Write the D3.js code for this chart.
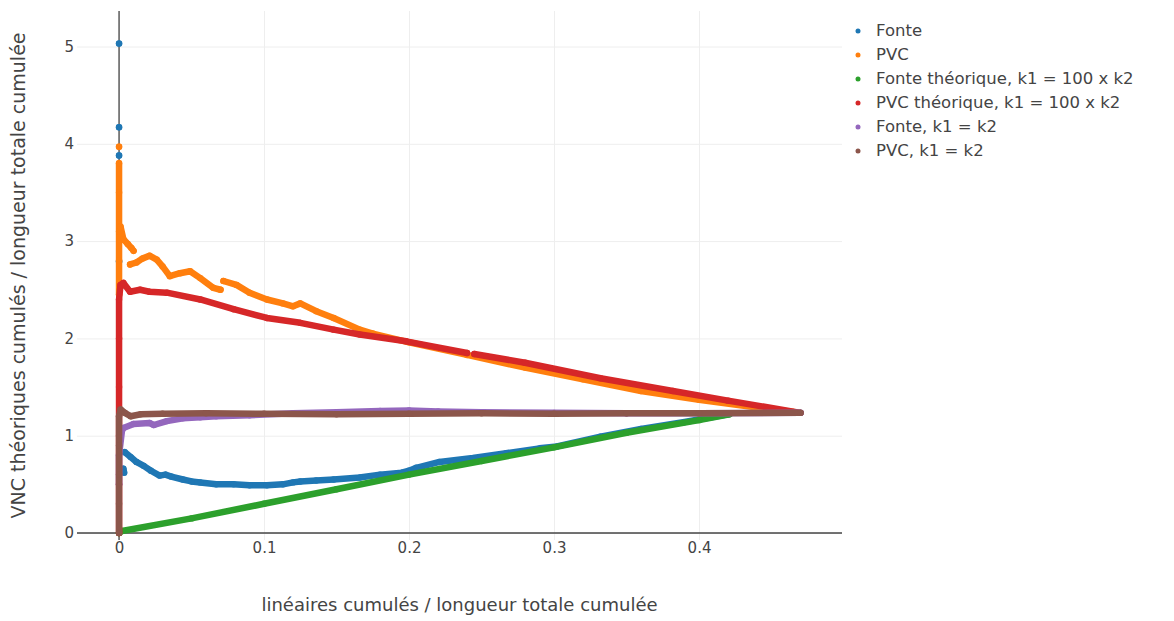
<!DOCTYPE html>
<html><head><meta charset="utf-8">
<script src="https://cdn.jsdelivr.net/npm/d3@7"></script>
<style>body{margin:0;background:#fff;} svg{display:block;}</style>
</head><body>
<script>
// ---------- data (null = gap in the trace) ----------
const seriesNames = ["Fonte","PVC","Fonte théorique, k1 = 100 x k2","PVC théorique, k1 = 100 x k2","Fonte, k1 = k2","PVC, k1 = k2"];
const seriesColors = ["#1f77b4","#ff7f0e","#2ca02c","#d62728","#9467bd","#8c564b"];

const fonteX = [0,null,0,null,0,null,0,null,0.003,0.0035,null,
  0.004,0.008,0.012,0.017,0.022,0.028,0.032,0.036,0.044,0.050,0.056,0.067,0.079,0.090,0.102,0.113,0.120,0.125,0.136,0.148,0.166,0.180,0.195,0.200,0.205,0.221,0.244,0.267,0.290,0.302,0.332,0.360,0.390,0.420];
const fonteY = [5.03,null,4.17,null,3.88,null,2.79,null,0.66,0.62,null,
  0.83,0.78,0.73,0.69,0.64,0.59,0.60,0.58,0.55,0.53,0.52,0.50,0.50,0.49,0.49,0.50,0.52,0.53,0.54,0.55,0.57,0.60,0.62,0.64,0.67,0.73,0.77,0.82,0.87,0.89,0.99,1.07,1.14,1.22];

const pvcX = [0,null,0,0,0,0,0,null,
  0.001,0.003,0.006,0.0085,0.010,null,0.0076,0.012,0.016,0.021,0.026,0.030,0.035,0.042,0.049,0.056,0.065,0.070,null,
  0.072,0.081,0.090,0.102,0.113,0.120,0.125,0.136,0.148,0.166,0.175,0.200,0.240,0.280,0.320,0.360,0.400,0.440,0.465];
const pvcY = [3.97,null,3.80,3.50,3.10,2.80,2.45,null,
  3.15,3.02,2.97,2.93,2.90,null,2.76,2.78,2.82,2.85,2.81,2.74,2.64,2.67,2.69,2.62,2.52,2.50,null,
  2.59,2.55,2.47,2.40,2.36,2.33,2.36,2.28,2.21,2.09,2.05,1.96,1.83,1.70,1.58,1.46,1.37,1.29,1.245];

const fonteTheoX = [0,0.002,0.050,0.100,0.150,0.200,0.250,0.300,0.350,0.400,0.421];
const fonteTheoY = [0.00,0.02,0.15,0.30,0.45,0.60,0.74,0.88,1.03,1.16,1.22];

const pvcTheoX = [0,0,0,0,0,0,0.001,0.003,0.0076,0.0145,0.021,0.033,0.056,0.079,0.102,0.125,0.148,0.166,0.198,0.240,null,0.245,0.280,0.332,0.382,0.420,0.470];
const pvcTheoY = [0.00,0.50,1.00,1.50,2.00,2.40,2.55,2.57,2.48,2.50,2.48,2.47,2.40,2.30,2.21,2.16,2.09,2.04,1.97,1.85,null,1.84,1.75,1.59,1.46,1.36,1.235];

const fonteEqX = [0,0,0.002,0.003,0.010,0.021,0.024,0.033,0.044,0.056,0.067,0.090,0.120,0.150,0.180,0.200,0.220,0.250,0.300,0.350,0.400,0.470];
const fonteEqY = [0.50,0.80,1.05,1.08,1.12,1.13,1.11,1.15,1.18,1.19,1.20,1.21,1.23,1.24,1.255,1.26,1.25,1.24,1.235,1.23,1.23,1.235];

const pvcEqX = [0,0,0,0,0,0.001,0.004,0.008,0.015,0.030,0.060,0.100,0.150,0.200,0.250,0.300,0.350,0.400,0.470];
const pvcEqY = [0.00,0.30,0.60,0.90,1.20,1.27,1.235,1.20,1.22,1.225,1.23,1.225,1.22,1.225,1.23,1.225,1.23,1.23,1.235];

const xTicks = [0,0.1,0.2,0.3,0.4];
const xTickLabels = ["0","0.1","0.2","0.3","0.4"];
const yTicks = [0,1,2,3,4,5];
const yTickLabels = ["0","1","2","3","4","5"];
const xTitle = "linéaires cumulés / longueur totale cumulée";
const yTitle = "VNC théoriques cumulés / longueur totale cumulée";

// ---------- drawing ----------
const W = 1174, H = 621;
const L = 77, R = 842, T = 11, B = 540;
const FONT = "DejaVu Sans, Verdana, sans-serif";

const svg = d3.select("body").append("svg").attr("width", W).attr("height", H);
const x = d3.scaleLinear().domain([-0.029, 0.4986]).range([L, R]);
const y = d3.scaleLinear().domain([-0.072, 5.365]).range([B, T]);

// gridlines
const gx = svg.append("g").attr("transform", `translate(0,${B})`)
  .call(d3.axisBottom(x).tickValues(xTicks).tickSize(-(B - T)).tickFormat(""));
gx.select(".domain").remove();
gx.selectAll("line").attr("stroke", "#eeeeee");
const gy = svg.append("g").attr("transform", `translate(${L},0)`)
  .call(d3.axisLeft(y).tickValues(yTicks).tickSize(-(R - L)).tickFormat(""));
gy.select(".domain").remove();
gy.selectAll("line").attr("stroke", "#eeeeee");

// zero lines
svg.append("line").attr("x1", x(0)).attr("x2", x(0)).attr("y1", T).attr("y2", B)
  .attr("stroke", "#444").attr("stroke-width", 1.3);
svg.append("line").attr("x1", L).attr("x2", R).attr("y1", y(0)).attr("y2", y(0))
  .attr("stroke", "#444").attr("stroke-width", 1.3);

// tick labels
const ax = svg.append("g").attr("transform", `translate(0,${B})`)
  .call(d3.axisBottom(x).tickValues(xTicks).tickSize(0).tickPadding(2)
    .tickFormat((d, i) => xTickLabels[i]));
ax.select(".domain").remove();
ax.selectAll("text").attr("fill", "#444").style("font-family", FONT).style("font-size", "15px");
const ay = svg.append("g").attr("transform", `translate(${L},0)`)
  .call(d3.axisLeft(y).tickValues(yTicks).tickSize(0).tickPadding(3)
    .tickFormat((d, i) => yTickLabels[i]));
ay.select(".domain").remove();
ay.selectAll("text").attr("fill", "#444").style("font-family", FONT).style("font-size", "15px");

// axis titles
svg.append("text").attr("x", (L + R) / 2).attr("y", 606).attr("text-anchor", "middle")
  .attr("dominant-baseline", "middle").attr("fill", "#444")
  .style("font-family", FONT).style("font-size", "18px").text(xTitle);
svg.append("text").attr("transform", `translate(19,${(T + B) / 2}) rotate(-90)`)
  .attr("text-anchor", "middle").attr("dominant-baseline", "middle").attr("fill", "#444")
  .style("font-family", FONT).style("font-size", "19px").text(yTitle);

// traces
const traces = [
  [fonteX, fonteY], [pvcX, pvcY], [fonteTheoX, fonteTheoY],
  [pvcTheoX, pvcTheoY], [fonteEqX, fonteEqY], [pvcEqX, pvcEqY]
];
const plot = svg.append("g");
traces.forEach(([xs, ys], k) => {
  const pts = xs.map((v, i) => ({ x: v, y: ys[i] }));
  const line = d3.line().defined(d => d.x !== null && d.y !== null)
    .x(d => x(d.x)).y(d => y(d.y));
  plot.append("path").datum(pts).attr("d", line).attr("fill", "none")
    .attr("stroke", seriesColors[k]).attr("stroke-width", 6.5)
    .attr("stroke-linejoin", "round").attr("stroke-linecap", "round");
  plot.selectAll(null).data(pts.filter(d => d.x !== null)).enter().append("circle")
    .attr("cx", d => x(d.x)).attr("cy", d => y(d.y)).attr("r", 3.2)
    .attr("fill", seriesColors[k]);
});

// legend
const lg = svg.append("g");
seriesNames.forEach((n, i) => {
  const yy = 31 + i * 24;
  lg.append("circle").attr("cx", 858).attr("cy", yy).attr("r", 2.5).attr("fill", seriesColors[i]);
  lg.append("text").attr("x", 876).attr("y", yy).attr("dominant-baseline", "middle")
    .attr("fill", "#444").style("font-family", FONT).style("font-size", "16.5px").text(n);
});
</script>
</body></html>
